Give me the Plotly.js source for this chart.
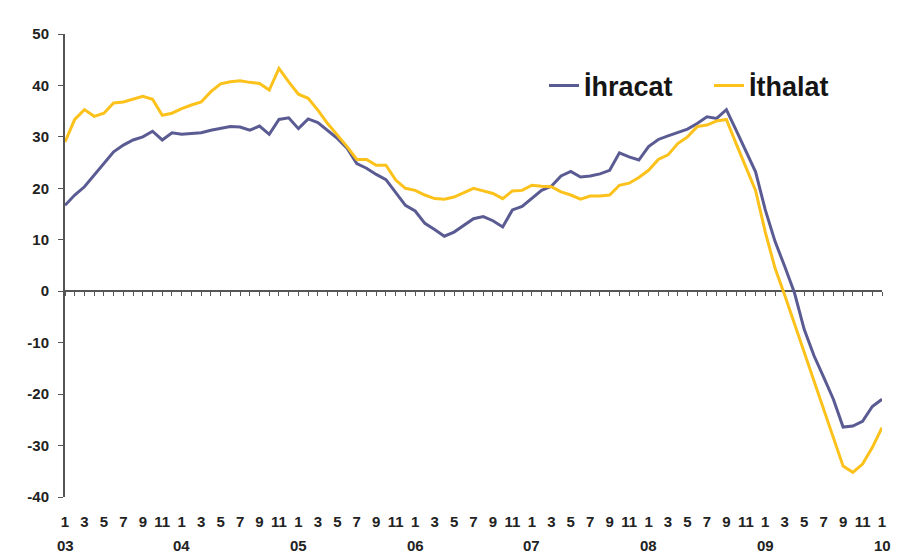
<!DOCTYPE html>
<html>
<head>
<meta charset="utf-8">
<script src="https://cdn.plot.ly/plotly-3.0.1.min.js"></script>
<style>html,body{margin:0;padding:0;background:#fff;}#chart{width:897px;height:553px;}</style>
</head>
<body>
<div id="chart"></div>
<script>
// Months Jan 2003 .. Jan 2010
var years = ['03','04','05','06','07','08','09','10'];
var monthLabels = ['1','3','5','7','9','11'];
var yTickVals = [-40,-30,-20,-10,0,10,20,30,40,50];
var yTickText = ['-40','-30','-20','-10','0','10','20','30','40','50'];

var ihracat = [16.7,18.7,20.3,22.6,24.9,27.1,28.4,29.4,30.0,31.1,29.4,30.8,
  30.5,30.7,30.8,31.3,31.6,32.0,31.9,31.3,32.1,30.5,33.4,33.7,
  31.6,33.5,32.8,31.3,29.7,27.8,24.8,23.9,22.7,21.7,19.3,16.7,
  15.6,13.2,12.0,10.7,11.5,12.8,14.1,14.5,13.7,12.5,15.8,16.5,
  18.0,19.6,20.4,22.4,23.3,22.2,22.4,22.8,23.5,26.9,26.1,25.5,
  28.1,29.5,30.2,30.8,31.5,32.6,33.9,33.6,35.3,31.3,27.1,23.2,
  15.8,9.7,4.8,-0.3,-7.4,-12.5,-16.7,-21.0,-26.4,-26.2,-25.3,-22.4,
  -21.0];

var ithalat = [29.0,33.4,35.3,34.0,34.6,36.6,36.8,37.3,37.9,37.3,34.2,34.6,
  35.5,36.2,36.8,38.8,40.3,40.7,40.9,40.6,40.4,39.1,43.3,40.7,
  38.3,37.5,35.2,32.6,30.4,28.1,25.6,25.6,24.5,24.5,21.6,20.0,
  19.6,18.7,18.0,17.9,18.3,19.1,20.0,19.5,19.0,18.0,19.5,19.6,
  20.6,20.4,20.3,19.3,18.7,17.9,18.5,18.5,18.7,20.6,21.0,22.1,
  23.5,25.6,26.5,28.7,30.0,32.0,32.3,33.1,33.4,28.7,24.2,19.6,
  11.5,4.5,-0.8,-6.3,-12.0,-17.4,-23.0,-28.5,-34.0,-35.2,-33.6,-30.4,
  -26.5];

// category list (year-month) and positions
var categories = [];
years.forEach(function(y, yi){
  for (var m = 1; m <= 12; m++) {
    if (yi === years.length - 1 && m > 1) break;
    categories.push(y + '-' + m);
  }
});
var xIdx = categories.map(function(c, i){ return i; });

var monthTickVals = [], monthTickText = [];
var yearTickVals = [], yearTickText = [];
categories.forEach(function(c, i){
  var parts = c.split('-');
  if (monthLabels.indexOf(parts[1]) >= 0) { monthTickVals.push(i); monthTickText.push(parts[1]); }
  if (parts[1] === '1') { yearTickVals.push(i); yearTickText.push(parts[0]); }
});

var FONT = 'Liberation Sans, Arial, sans-serif';
var TICKFONT = {family: FONT, size: 15, color: '#222', weight: 'bold'};
var xr = [0, categories.length - 1];

var traces = [
  {x: xIdx, y: ihracat, name: 'İhracat', type: 'scatter', mode: 'lines',
   xaxis: 'x', yaxis: 'y', line: {color: '#5b5b93', width: 3}},
  {x: xIdx, y: ithalat, name: 'İthalat', type: 'scatter', mode: 'lines',
   xaxis: 'x2', yaxis: 'y', line: {color: '#fcc21b', width: 3}}
];

var annotations = yearTickVals.map(function(v, i){
  return {x: v, xref: 'x', y: -0.1037, yref: 'paper', yanchor: 'middle',
    xanchor: 'center', text: yearTickText[i], showarrow: false, font: TICKFONT};
});

var layout = {
  width: 897, height: 553,
  margin: {l: 65, r: 15, t: 34, b: 56},
  paper_bgcolor: '#fff', plot_bgcolor: '#fff',
  showlegend: true,
  legend: {orientation: 'h', x: (544-65)/817, xanchor: 'left',
    y: 0.8877, yanchor: 'middle', entrywidth: 120,
    font: {family: FONT, size: 27, color: '#151515', weight: 'bold'},
    bgcolor: 'rgba(0,0,0,0)'},
  // zero-line axis with month ticks
  xaxis: {range: xr, anchor: 'free', position: 40/90, showline: true,
    linecolor: '#555', linewidth: 2, ticks: 'outside', ticklen: 4, tickwidth: 1,
    tickcolor: '#555', tickmode: 'array', tickvals: xIdx, showticklabels: false,
    showgrid: false, zeroline: false, layer: 'below traces'},
  // month labels at the bottom
  xaxis2: {overlaying: 'x', anchor: 'y', side: 'bottom', range: xr,
    tickmode: 'array', tickvals: monthTickVals, ticktext: monthTickText,
    ticks: '', showline: false, showgrid: false, zeroline: false,
    ticklabelstandoff: 14, tickfont: TICKFONT},
  yaxis: {range: [-40, 50], tickmode: 'array', tickvals: yTickVals, ticktext: yTickText,
    showline: true, linecolor: '#555', linewidth: 2, ticks: 'outside', ticklen: 5,
    tickwidth: 1, tickcolor: '#555', showgrid: false, zeroline: false,
    ticklabelstandoff: 6, tickfont: TICKFONT},
  annotations: annotations
};

Plotly.newPlot('chart', traces, layout, {staticPlot: true, displayModeBar: false});
</script>
</body>
</html>
